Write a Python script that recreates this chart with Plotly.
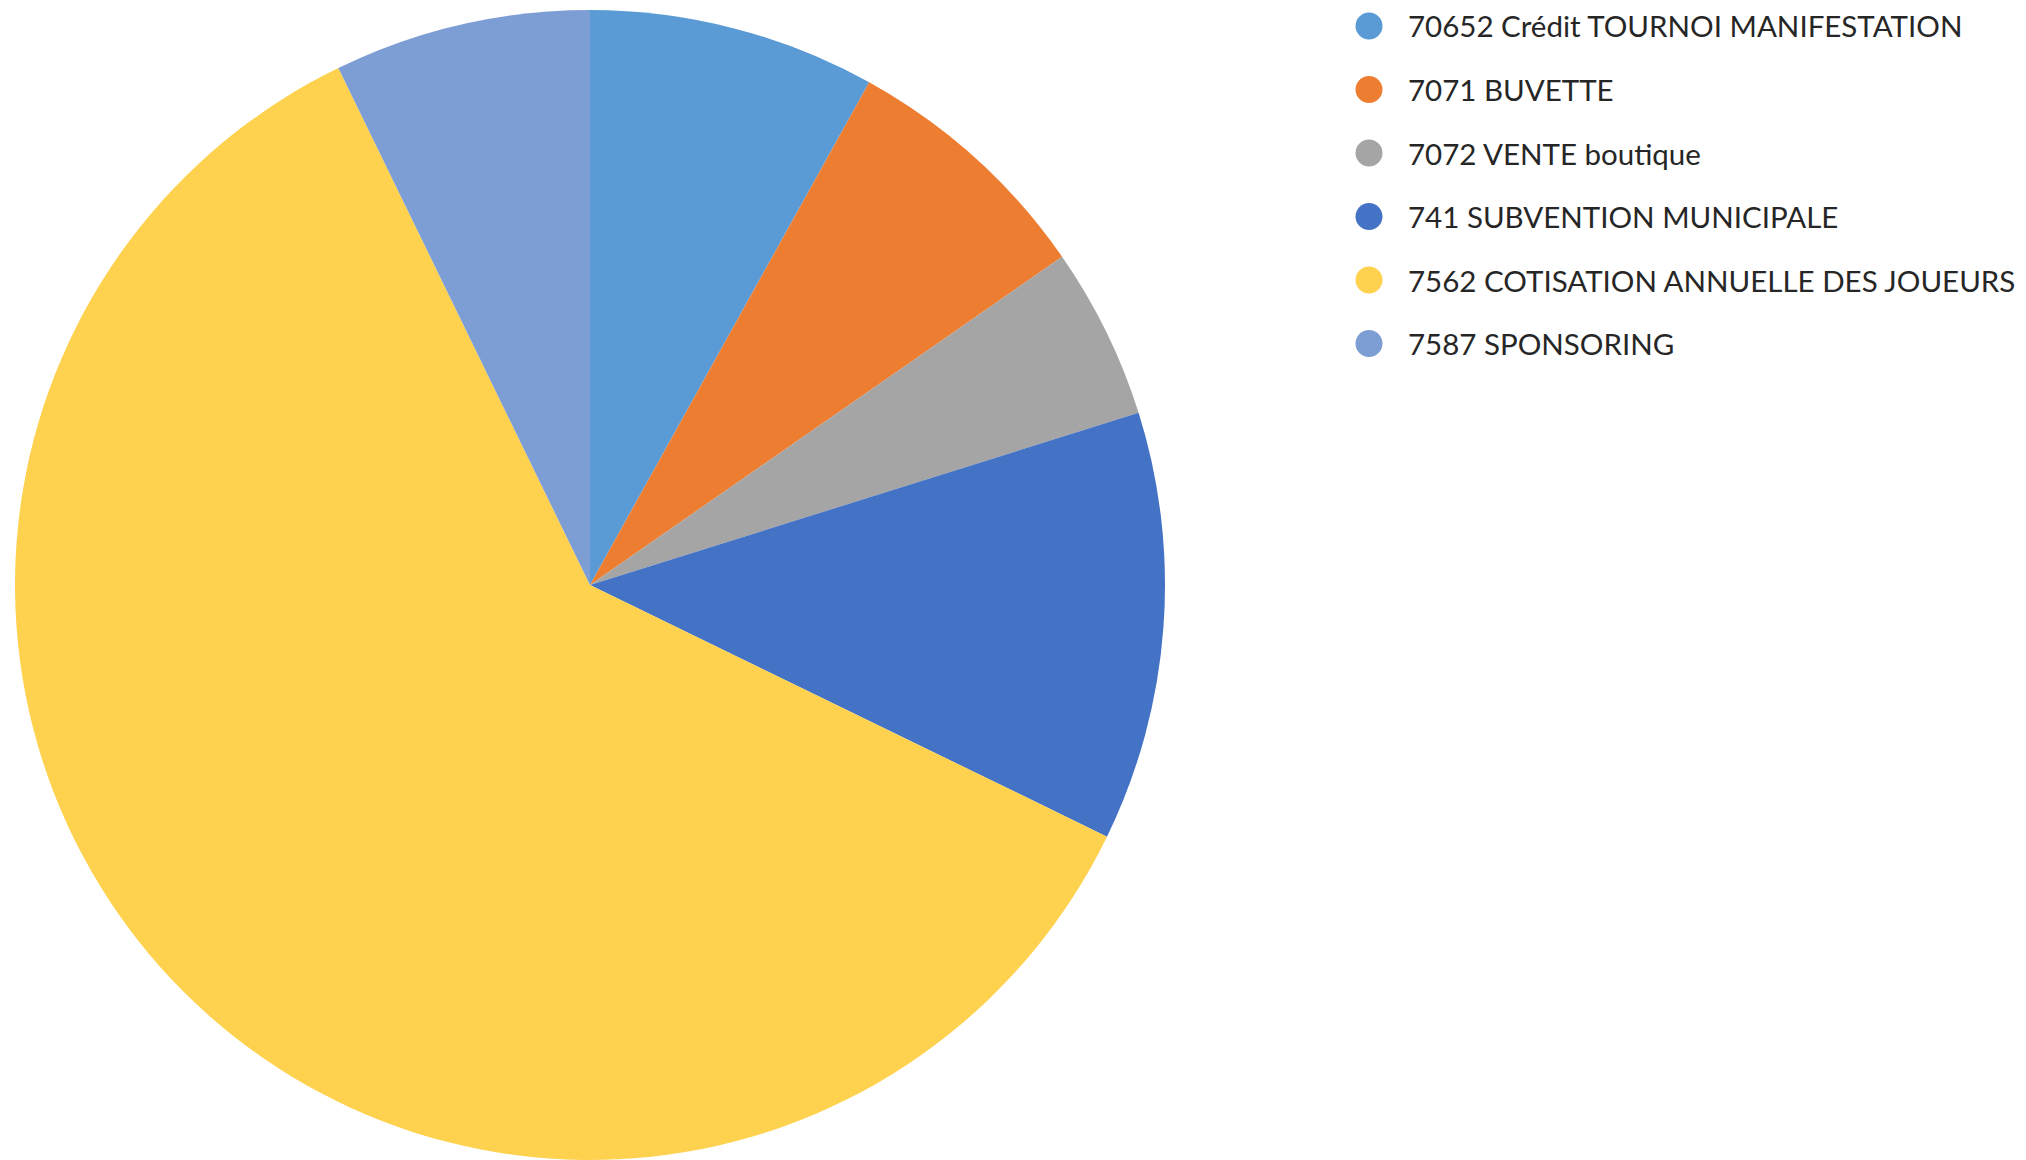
import plotly.graph_objects as go

W, H = 2026, 1160

labels = [
    "70652 Crédit TOURNOI MANIFESTATION",
    "7071 BUVETTE",
    "7072 VENTE boutique",
    "741 SUBVENTION MUNICIPALE",
    "7562 COTISATION ANNUELLE DES JOUEURS",
    "7587 SPONSORING",
]
values = [4035, 3630, 2415, 6025, 30290, 3605]
colors = ["#5B9BD5", "#ED7D31", "#A5A5A5", "#4472C4", "#FED24E", "#7D9DD5"]

# pie geometry (pixels, page offset compensated)
cx, cy, r = 582, 577, 575

fig = go.Figure()
fig.add_trace(go.Pie(
    labels=labels,
    values=values,
    marker=dict(colors=colors, line=dict(width=0)),
    sort=False,
    direction="clockwise",
    rotation=0,
    textinfo="none",
    hoverinfo="label+value+percent",
    showlegend=False,
    domain=dict(x=[max(0, (cx - r) / W), min(1, (cx + r) / W)],
                y=[max(0, (H - cy - r) / H), min(1, (H - cy + r) / H)]),
))

# legend (manual, circular markers)
leg_x_marker = 1361
leg_x_text = 1398
leg_y0 = 18
leg_dy = 63.5
mr = 13.5
shapes = []
annotations = []
for i, (lab, col) in enumerate(zip(labels, colors)):
    ypx = leg_y0 + leg_dy * i
    yp = 1 - ypx / H
    shapes.append(dict(
        type="circle", xref="paper", yref="paper",
        xsizemode="pixel", ysizemode="pixel",
        xanchor=leg_x_marker / W, yanchor=yp,
        x0=-mr, x1=mr, y0=-mr, y1=mr,
        fillcolor=col, line=dict(width=0),
    ))
    annotations.append(dict(
        text=lab, xref="paper", yref="paper",
        x=leg_x_text / W, y=yp, xanchor="left", yanchor="middle",
        showarrow=False,
        font=dict(family="Lato", size=29.5, color="#262626"),
    ))

fig.update_layout(
    width=W, height=H,
    margin=dict(l=0, r=0, t=0, b=0),
    paper_bgcolor="white",
    plot_bgcolor="white",
    shapes=shapes,
    annotations=annotations,
)

fig.write_html("out.html")
